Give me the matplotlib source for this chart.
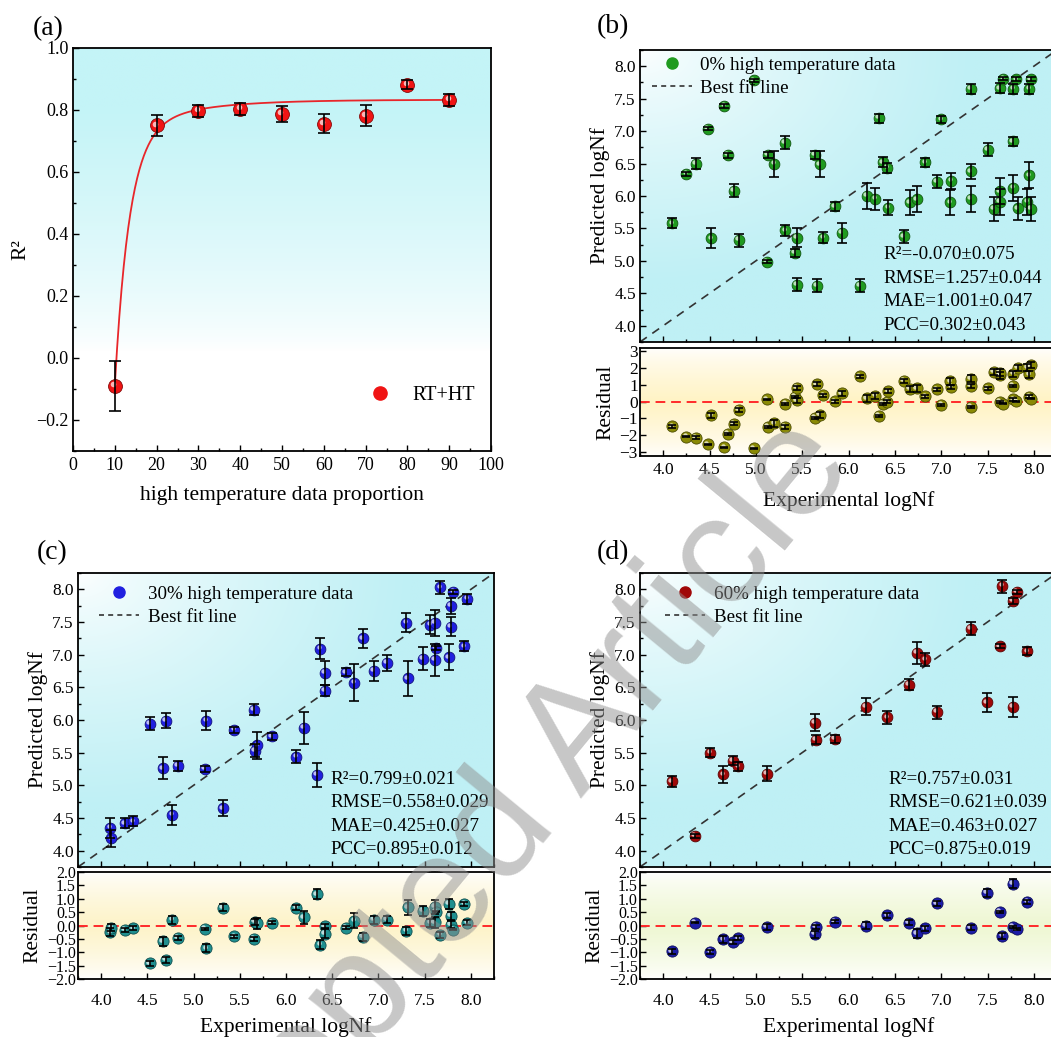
import matplotlib
matplotlib.use("Agg")
import matplotlib.pyplot as plt
import matplotlib.transforms as mtrans
from matplotlib.colors import to_rgb
from matplotlib.lines import Line2D
from matplotlib.ticker import MultipleLocator
import numpy as np

plt.rcParams['font.family'] = ['Liberation Serif', 'DejaVu Serif']
plt.rcParams['axes.unicode_minus'] = True

W, H = 1051, 1037

# ---- (a) R2 vs proportion of high temperature data
prop = [10, 20, 30, 40, 50, 60, 70, 80, 90]
r2 = [-0.09, 0.75, 0.797, 0.804, 0.787, 0.756, 0.782, 0.882, 0.833]
r2_err = [0.08, 0.035, 0.02, 0.02, 0.025, 0.03, 0.035, 0.015, 0.02]
# fitted curve (exponential rise) parameters
fit_a, fit_b1, fit_t1, fit_b2, fit_t2 = 0.833, 0.813, 3.5, 0.11, 15.0

# ---- (b) 0% high temperature data
exp_b = [4.10, 4.25, 4.35, 4.48, 4.52, 4.66, 4.70, 4.76, 4.82, 4.98,
         5.12, 5.13, 5.20, 5.31, 5.32, 5.42, 5.44, 5.44, 5.64, 5.69,
         5.66, 5.73, 5.85, 5.93, 6.12, 6.20, 6.29, 6.33, 6.37, 6.42,
         6.43, 6.60, 6.66, 6.74, 6.83, 6.95, 7.00, 7.11, 7.10, 7.32,
         7.32, 7.32, 7.50, 7.57, 7.63, 7.63, 7.63, 7.67, 7.78, 7.77,
         7.78, 7.81, 7.83, 7.93, 7.95, 7.97, 7.95, 7.97]
pred_b = [5.58, 6.34, 6.50, 7.04, 5.35, 7.39, 6.63, 6.08, 5.32, 7.78,
          4.99, 6.63, 6.50, 6.82, 5.47, 5.12, 5.36, 4.63, 6.63, 6.49,
          4.62, 5.36, 5.84, 5.43, 4.62, 6.00, 5.96, 7.20, 6.52, 6.43,
          5.82, 5.38, 5.90, 5.95, 6.52, 6.22, 7.18, 6.23, 5.90, 6.38,
          5.96, 7.65, 6.71, 5.80, 6.07, 5.91, 7.66, 7.81, 6.13, 6.84,
          7.65, 7.80, 5.81, 5.91, 6.32, 5.80, 7.65, 7.80]
err_b = [0.08, 0.03, 0.08, 0.03, 0.15, 0.03, 0.04, 0.10, 0.10, 0.03,
         0.03, 0.05, 0.20, 0.10, 0.08, 0.06, 0.15, 0.10, 0.06, 0.20,
         0.10, 0.08, 0.07, 0.15, 0.10, 0.20, 0.17, 0.07, 0.08, 0.08,
         0.12, 0.10, 0.20, 0.20, 0.07, 0.10, 0.06, 0.12, 0.20, 0.12,
         0.20, 0.08, 0.10, 0.18, 0.20, 0.20, 0.08, 0.03, 0.20, 0.07,
         0.08, 0.03, 0.18, 0.20, 0.20, 0.18, 0.08, 0.03]
metrics_b = ["R²=-0.070±0.075", "RMSE=1.257±0.044", "MAE=1.001±0.047", "PCC=0.302±0.043"]

# ---- (c) 30% high temperature data
exp_c = [4.10, 4.11, 4.26, 4.35, 4.53, 4.67, 4.70, 4.77, 4.83, 5.12,
         5.14, 5.32, 5.44, 5.65, 5.66, 5.69, 5.85, 6.11, 6.19, 6.33,
         6.37, 6.42, 6.42, 6.65, 6.74, 6.83, 6.95, 7.09, 7.30, 7.32,
         7.48, 7.56, 7.61, 7.61, 7.62, 7.67, 7.76, 7.78, 7.78, 7.81,
         7.93, 7.96]
pred_c = [4.35, 4.19, 4.42, 4.45, 5.94, 5.26, 5.99, 4.55, 5.30, 5.25,
          5.99, 4.65, 5.85, 6.16, 5.53, 5.61, 5.75, 5.44, 5.88, 5.16,
          7.09, 6.45, 6.72, 6.73, 6.57, 7.25, 6.75, 6.87, 7.49, 6.64,
          6.94, 7.46, 7.49, 6.92, 7.10, 8.03, 6.96, 7.43, 7.75, 7.96,
          7.13, 7.85]
err_c = [0.15, 0.13, 0.08, 0.08, 0.10, 0.17, 0.12, 0.15, 0.08, 0.04,
         0.15, 0.12, 0.05, 0.08, 0.10, 0.20, 0.05, 0.10, 0.25, 0.18,
         0.16, 0.08, 0.18, 0.06, 0.28, 0.15, 0.15, 0.12, 0.15, 0.27,
         0.18, 0.15, 0.20, 0.25, 0.03, 0.10, 0.20, 0.15, 0.12, 0.03,
         0.08, 0.08]
metrics_c = ["R²=0.799±0.021", "RMSE=0.558±0.029", "MAE=0.425±0.027", "PCC=0.895±0.012"]

# ---- (d) 60% high temperature data
exp_d = [4.09, 4.34, 4.51, 4.65, 4.75, 4.81, 5.12, 5.64, 5.65, 5.85,
         6.19, 6.42, 6.65, 6.74, 6.83, 6.95, 7.32, 7.49, 7.63, 7.66,
         7.77, 7.77, 7.82, 7.93]
pred_d = [5.06, 4.23, 5.50, 5.17, 5.38, 5.29, 5.18, 5.96, 5.70, 5.71,
          6.20, 6.04, 6.54, 7.03, 6.93, 6.12, 7.40, 6.27, 7.13, 8.05,
          6.20, 7.82, 7.96, 7.05]
err_d = [0.08, 0.03, 0.07, 0.13, 0.07, 0.07, 0.12, 0.13, 0.07, 0.06,
         0.13, 0.10, 0.08, 0.17, 0.10, 0.10, 0.10, 0.14, 0.03, 0.10,
         0.15, 0.05, 0.03, 0.06]
metrics_d = ["R²=0.757±0.031", "RMSE=0.621±0.039", "MAE=0.463±0.027", "PCC=0.875±0.019"]


fig = plt.figure(figsize=(W / 100, H / 100), dpi=100)


def px_axes(l, t, r, b):
    return fig.add_axes([l / W, 1 - b / H, (r - l) / W, (b - t) / H])


def gradient(ax, color, mode):
    u = np.linspace(0, 1, 200)
    U, V = np.meshgrid(u, u)
    if mode == "top":
        f = np.clip((V - 0.25) / 0.6, 0, 1) ** 0.7
    elif mode == "main":
        f = np.clip(np.hypot(U, 1 - V) / 0.8, 0, 1) ** 0.7
    else:
        f = np.clip(1 - np.abs(V - 0.5) * 2, 0, 1) ** 0.7
    c = np.array(to_rgb(color))
    img = 1 - f[..., None] * (1 - c)
    ax.imshow(img, extent=(0, 1, 0, 1), origin="lower", transform=ax.transAxes,
              aspect="auto", zorder=0, interpolation="bilinear")


def ball(ax, x, y, color, s):
    rgb = np.array(to_rgb(color))
    ax.scatter(x, y, s=s, color=rgb, edgecolor=rgb * 0.55, linewidth=0.6, zorder=3)
    off = mtrans.offset_copy(ax.transData, fig=fig, x=-1.2, y=1.2, units="points")
    ax.scatter(x, y, s=s * 0.16, color="white", alpha=0.7, linewidth=0, zorder=4,
               transform=off)


def errbars(ax, x, y, e, cap=3.5):
    ax.errorbar(x, y, yerr=e, fmt="none", ecolor="black", elinewidth=1.2,
                capsize=cap, capthick=1.2, zorder=5)


def style(ax, size):
    for sp in ax.spines.values():
        sp.set_linewidth(1.3)
    ax.tick_params(which="both", direction="in", top=False, right=False,
                   labelsize=size, width=1)
    ax.tick_params(which="major", length=4)
    ax.tick_params(which="minor", length=2.5)


# ===== (a)
ax = px_axes(73, 48, 491, 451)
gradient(ax, "#c4f4f7", "top")
xf = np.linspace(10, 90, 300)
yf = fit_a - fit_b1 * np.exp(-(xf - 10) / fit_t1) - fit_b2 * np.exp(-(xf - 10) / fit_t2)
ax.plot(xf, yf, color="#e8262a", lw=1.3, zorder=2)
ball(ax, prop, r2, "#f01414", 100)
errbars(ax, prop, r2, r2_err, cap=4)
ax.set_xlim(0, 100)
ax.set_ylim(-0.3, 1.0)
ax.xaxis.set_major_locator(MultipleLocator(10))
ax.xaxis.set_minor_locator(MultipleLocator(5))
ax.yaxis.set_major_locator(MultipleLocator(0.2))
ax.yaxis.set_minor_locator(MultipleLocator(0.1))
style(ax, 13)
ax.tick_params(axis="x", pad=4)
ax.tick_params(axis="y", pad=3)
ax.set_xlabel("high temperature data proportion", fontsize=15.5, labelpad=9)
ax.set_ylabel("R²", fontsize=15.5, labelpad=4)
ax.legend(handles=[Line2D([], [], marker="o", ls="none", color="#f01414", markersize=9.5)],
          labels=["RT+HT"], loc="lower right", bbox_to_anchor=(1.005, 0.07),
          frameon=False, fontsize=14.5, handletextpad=0.6)
fig.text(33 / W, 1 - 29 / H, "(a)", fontsize=20, va="center", ha="left")


def scatter_panel(box_main, box_res, xs, ys, es, color, res_color, res_bg,
                  leg_label, leg_anchor, metrics, mx, res_lim, res_step, res_ysize,
                  xpad, xlabpad, letter, letter_xy):
    axm = px_axes(*box_main)
    gradient(axm, "#bff0f5", "main")
    axm.plot([3.75, 8.25], [3.75, 8.25], ls=(0, (5, 4)), color="#333333", lw=1.2, zorder=2)
    ball(axm, xs, ys, color, 60)
    errbars(axm, xs, ys, es)
    axm.set_xlim(3.75, 8.25)
    axm.set_ylim(3.75, 8.25)
    for a in (axm.xaxis, axm.yaxis):
        a.set_major_locator(MultipleLocator(0.5))
        a.set_minor_locator(MultipleLocator(0.25))
    style(axm, 12.5)
    axm.tick_params(labelbottom=False)
    axm.tick_params(axis="y", pad=3)
    axm.set_ylabel("Predicted logNf", fontsize=15.5, labelpad=3)
    handles = [Line2D([], [], marker="o", ls="none", color=color, markersize=8),
               Line2D([], [], ls=(0, (3, 2.5)), color="#333333", lw=1.2)]
    axm.legend(handles=handles, labels=[leg_label, "Best fit line"], loc="upper left",
               bbox_to_anchor=leg_anchor, frameon=False, fontsize=13.7,
               borderaxespad=0.0, borderpad=0.35,
               handlelength=2.1, handletextpad=0.45, labelspacing=0.3)
    for txt, yy in zip(metrics, [0.298, 0.218, 0.137, 0.058]):
        axm.text(mx, yy, txt, transform=axm.transAxes, fontsize=13.7, va="center",
                 ha="left", zorder=6)

    residual = np.array(xs) - np.array(ys)
    axr = px_axes(*box_res)
    gradient(axr, res_bg, "band")
    axr.axhline(0, color="#ff2a2a", ls=(0, (5, 3)), lw=1.4, zorder=2)
    ball(axr, xs, residual, res_color, 65)
    errbars(axr, xs, residual, es, cap=3)
    axr.set_xlim(3.75, 8.25)
    axr.set_ylim(*res_lim)
    axr.xaxis.set_major_locator(MultipleLocator(0.5))
    axr.xaxis.set_minor_locator(MultipleLocator(0.25))
    axr.yaxis.set_major_locator(MultipleLocator(res_step))
    style(axr, 12.5)
    axr.tick_params(axis="x", pad=xpad)
    axr.tick_params(axis="y", labelsize=res_ysize, pad=1.5)
    axr.set_xlabel("Experimental logNf", fontsize=15.5, labelpad=xlabpad)
    axr.set_ylabel("Residual", fontsize=15.5, labelpad=3)
    fig.text(letter_xy[0] / W, 1 - letter_xy[1] / H, letter, fontsize=20,
             va="center", ha="left")


scatter_panel((640, 50, 1057, 342), (640, 348, 1057, 456), exp_b, pred_b, err_b,
              "#1f9a1f", "#8a8a05", "#fff3c4", "0% high temperature data",
              (0.012, 1.0), metrics_b, 0.583, (-3.25, 3.2), 1, 12.5, 4, 10, "(b)", (597, 27))
scatter_panel((78, 573, 494, 867), (78, 872, 494, 979), exp_c, pred_c, err_c,
              "#2020e0", "#1f8f8f", "#fdf3c8", "30% high temperature data",
              (0.035, 0.98), metrics_c, 0.606, (-2.0, 2.0), 0.5, 11.5, 10, 6, "(c)", (37, 553))
scatter_panel((640, 573, 1057, 867), (640, 872, 1057, 979), exp_d, pred_d, err_d,
              "#a00808", "#1c1ca8", "#eef7d2", "60% high temperature data",
              (0.045, 0.98), metrics_d, 0.595, (-2.0, 2.0), 0.5, 11.5, 10, 6, "(d)", (597, 553))

# journal watermark
fig.text(470 / W, 1 - 870 / H, "Accepted Article", rotation=50.5, rotation_mode="anchor",
         fontsize=112, color="#909090", alpha=0.5, ha="center", va="center",
         family=["Liberation Sans", "DejaVu Sans"], zorder=20)

fig.savefig("out.png", dpi=100)
